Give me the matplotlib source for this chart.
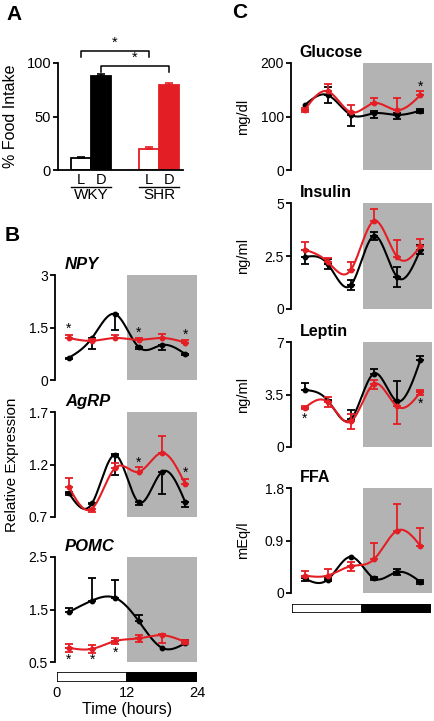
import numpy as np
import matplotlib
matplotlib.use("Agg")
import matplotlib.pyplot as plt
from matplotlib.transforms import blended_transform_factory

plt.rcParams['font.family'] = ['Liberation Sans', 'DejaVu Sans']
plt.rcParams['font.size'] = 8.5

RED = '#e31e24'
GRAY = '#b3b3b3'

# ---------------- Data ----------------
# Panel A
food_groups = ['WKY', 'SHR']
phase_labels = ['L', 'D']
food_wky = [11, 88]
food_wky_err = [1.5, 1.5]
food_shr = [20, 79]
food_shr_err = [1.5, 2.5]

time = [2, 6, 10, 14, 18, 22]
time_ticks = [0, 12, 24]

# Panel B
npy_wky = [0.63, 1.20, 1.88, 0.94, 1.00, 0.74]
npy_wky_lo = [0.02, 0.30, 0.45, 0.05, 0.13, 0.02]
npy_wky_hi = [0, 0, 0, 0, 0, 0]
npy_shr = [1.20, 1.12, 1.20, 1.15, 1.20, 1.07]
npy_shr_lo = [0, 0, 0, 0, 0, 0]
npy_shr_hi = [0.09, 0.04, 0.08, 0.05, 0.12, 0.07]
npy_star_t = [2, 14, 22]
npy_star_y = [1.45, 1.35, 1.28]

agrp_wky = [0.93, 0.83, 1.29, 0.84, 1.13, 0.84]
agrp_wky_lo = [0.02, 0.01, 0.19, 0.03, 0.21, 0.04]
agrp_wky_hi = [0.01, 0, 0.01, 0, 0, 0]
agrp_shr = [0.99, 0.78, 1.17, 1.13, 1.31, 1.01]
agrp_shr_lo = [0, 0.03, 0, 0, 0, 0]
agrp_shr_hi = [0.08, 0, 0.04, 0.05, 0.16, 0.05]
agrp_star_t = [14, 22]
agrp_star_y = [1.22, 1.12]

pomc_wky = [1.45, 1.67, 1.72, 1.28, 0.77, 0.86]
pomc_wky_lo = [0, 0, 0, 0, 0, 0]
pomc_wky_hi = [0.07, 0.43, 0.35, 0.11, 0, 0.06]
pomc_shr = [0.77, 0.75, 0.90, 0.95, 1.01, 0.88]
pomc_shr_lo = [0.07, 0.07, 0.05, 0.06, 0.15, 0.03]
pomc_shr_hi = [0.07, 0.07, 0.05, 0.06, 0.03, 0.03]
pomc_star_t = [2, 6, 10]
pomc_star_y = [0.54, 0.54, 0.68]

# Panel C
glu_wky = [121, 140, 103, 106, 103, 111]
glu_wky_lo = [0, 15, 21, 8, 8, 4]
glu_wky_hi = [0, 15, 0, 4, 4, 3]
glu_shr = [112, 147, 108, 125, 112, 140]
glu_shr_lo = [4, 0, 0, 0, 0, 0]
glu_shr_hi = [4, 13, 14, 9, 22, 7]
glu_star_t = [22]
glu_star_y = [155]

ins_wky = [2.45, 2.12, 1.13, 3.45, 1.50, 2.80]
ins_wky_lo = [0.33, 0.25, 0.25, 0.20, 0.48, 0.20]
ins_wky_hi = [0.33, 0.25, 0.25, 0.20, 0.48, 0.20]
ins_shr = [2.80, 2.22, 1.85, 4.15, 2.45, 2.97]
ins_shr_lo = [0, 0, 0, 0, 0, 0]
ins_shr_hi = [0.35, 0.20, 0.35, 0.55, 0.80, 0.33]

lep_wky = [3.8, 3.1, 1.85, 4.9, 3.05, 5.8]
lep_wky_lo = [0, 0, 0, 0, 0, 0]
lep_wky_hi = [0.5, 0.05, 0.6, 0.3, 1.35, 0.3]
lep_shr = [2.6, 3.0, 1.7, 4.2, 2.7, 3.65]
lep_shr_lo = [0.1, 0.35, 0.5, 0.3, 1.15, 0.15]
lep_shr_hi = [0.1, 0.35, 0.5, 0.3, 0, 0.15]
lep_star_t = [2, 22]
lep_star_y = [1.9, 2.9]

ffa_wky = [0.25, 0.23, 0.62, 0.25, 0.36, 0.19]
ffa_wky_lo = [0.05, 0.03, 0, 0.02, 0.05, 0.03]
ffa_wky_hi = [0.05, 0.03, 0, 0.02, 0.05, 0.03]
ffa_shr = [0.30, 0.30, 0.46, 0.58, 1.07, 0.81]
ffa_shr_lo = [0.02, 0, 0.08, 0, 0, 0]
ffa_shr_hi = [0.07, 0.12, 0.08, 0.28, 0.45, 0.30]

# ---------------- Helpers ----------------
W, H = 434, 721
fig = plt.figure(figsize=(W / 100, H / 100), dpi=100)


def px_axes(x0, y0, x1, y1):
    return fig.add_axes([x0 / W, 1 - y1 / H, (x1 - x0) / W, (y1 - y0) / H])


def natural_spline(x, y, n=200):
    x = np.asarray(x, float)
    y = np.asarray(y, float)
    k = len(x)
    h = np.diff(x)
    A = np.zeros((k, k))
    b = np.zeros(k)
    A[0, 0] = 1
    A[-1, -1] = 1
    for i in range(1, k - 1):
        A[i, i - 1] = h[i - 1]
        A[i, i] = 2 * (h[i - 1] + h[i])
        A[i, i + 1] = h[i]
        b[i] = 6 * ((y[i + 1] - y[i]) / h[i] - (y[i] - y[i - 1]) / h[i - 1])
    M = np.linalg.solve(A, b)
    xs = np.linspace(x[0], x[-1], n)
    ys = np.empty_like(xs)
    for j, xv in enumerate(xs):
        i = min(np.searchsorted(x, xv, side='right') - 1, k - 2)
        t0, t1 = x[i], x[i + 1]
        hh = t1 - t0
        a = (t1 - xv) / hh
        bb = (xv - t0) / hh
        ys[j] = (a * y[i] + bb * y[i + 1]
                 + ((a ** 3 - a) * M[i] + (bb ** 3 - bb) * M[i + 1]) * hh ** 2 / 6)
    return xs, ys


def style_left(ax, ticks, labels):
    for s in ['top', 'right', 'bottom']:
        ax.spines[s].set_visible(False)
    ax.spines['left'].set_linewidth(1.3)
    ax.set_yticks(ticks)
    ax.set_yticklabels(labels)
    ax.tick_params(axis='y', length=3.5, width=1.3, labelsize=10, pad=1.5)
    ax.set_xticks([])


def series(ax, y, lo, hi, color, z):
    xs, ys = natural_spline(time, y)
    ax.plot(xs, ys, color=color, lw=1.5, zorder=z)
    ax.plot(time, y, 'o', color=color, ms=3.2, zorder=z + 0.1)
    lo = np.asarray(lo, float)
    hi = np.asarray(hi, float)
    t = np.asarray(time, float)
    yy = np.asarray(y, float)
    m = lo > 0
    if m.any():
        ax.errorbar(t[m], yy[m], yerr=[lo[m], np.zeros(m.sum())], fmt='none',
                    ecolor=color, elinewidth=1.3, capsize=2.8, capthick=1.3, zorder=z)
    m = hi > 0
    if m.any():
        ax.errorbar(t[m], yy[m], yerr=[np.zeros(m.sum()), hi[m]], fmt='none',
                    ecolor=color, elinewidth=1.3, capsize=2.8, capthick=1.3, zorder=z)


def time_panel(ax, ylim, ticks, labels, title, italic, wky, wlo, whi, shr, slo, shi,
               star_t=(), star_y=(), ylabel=None, title_dx=0.07, title_fs=12):
    ax.set_xlim(-0.35, 24)
    ax.set_ylim(*ylim)
    ax.axvspan(12, 24, color=GRAY, lw=0, zorder=0)
    series(ax, wky, wlo, whi, 'black', 3)
    series(ax, shr, slo, shi, RED, 4)
    for st, sy in zip(star_t, star_y):
        ax.text(st, sy, '*', ha='center', va='center', fontsize=10, zorder=6)
    style_left(ax, ticks, labels)
    ax.text(title_dx, 1.03, title, transform=ax.transAxes, ha='left', va='bottom',
            fontsize=title_fs, fontweight='bold',
            fontstyle='italic' if italic else 'normal')
    if ylabel:
        ax.set_ylabel(ylabel, fontsize=10.5, labelpad=3)


def time_bar(ax, show_labels):
    ax.set_xlim(0, 24)
    ax.set_ylim(0, 1)
    ax.barh(0.5, 12, left=0, height=1, color='white', edgecolor='black', lw=1.2)
    ax.barh(0.5, 12, left=12, height=1, color='black', edgecolor='black', lw=1.2)
    for s in ax.spines.values():
        s.set_visible(False)
    ax.set_yticks([])
    if show_labels:
        ax.set_xticks(time_ticks)
        ax.set_xticklabels([str(v) for v in time_ticks])
        ax.tick_params(axis='x', length=0, labelsize=10.5, pad=3)
        ax.set_xlabel('Time (hours)', fontsize=11.5, labelpad=1)
    else:
        ax.set_xticks([])


# ---------------- Panel A ----------------
axA = px_axes(58, 63, 183, 170)
xpos_wky = [0, 1]
xpos_shr = [3.4, 4.4]
axA.bar(xpos_wky[0], food_wky[0], width=1, color='white', edgecolor='black', lw=1.3)
axA.bar(xpos_wky[1], food_wky[1], width=1, color='black', edgecolor='black', lw=1.3)
axA.bar(xpos_shr[0], food_shr[0], width=1, color='white', edgecolor=RED, lw=1.3)
axA.bar(xpos_shr[1], food_shr[1], width=1, color=RED, edgecolor=RED, lw=1.3)
axA.errorbar(xpos_wky, food_wky, yerr=[[0, 0], food_wky_err], fmt='none',
             ecolor='black', elinewidth=1.2, capsize=3, capthick=1.2)
axA.errorbar(xpos_shr, food_shr, yerr=[[0, 0], food_shr_err], fmt='none',
             ecolor=RED, elinewidth=1.2, capsize=3, capthick=1.2)
axA.set_xlim(-1.15, 5.1)
axA.set_ylim(0, 100)
for s in ['top', 'right']:
    axA.spines[s].set_visible(False)
axA.spines['left'].set_linewidth(1.3)
axA.spines['bottom'].set_linewidth(1.3)
axA.set_yticks([0, 50, 100])
axA.tick_params(axis='y', length=3.5, width=1.3, labelsize=10.5, pad=1.5)
axA.set_xticks([])
axA.set_ylabel('% Food Intake', fontsize=11.5, labelpad=3)
axA.yaxis.set_label_coords(-0.32, 0.5)

trA = blended_transform_factory(axA.transData, axA.transAxes)
for xs_, grp in [(xpos_wky, food_groups[0]), (xpos_shr, food_groups[1])]:
    for xv, lab in zip(xs_, phase_labels):
        axA.text(xv, -0.095, lab, transform=trA, ha='center', va='center', fontsize=10.5)
    axA.plot([xs_[0] - 0.5, xs_[1] + 0.5], [-0.16, -0.16], transform=trA,
             color='black', lw=1, clip_on=False)
    axA.text((xs_[0] + xs_[1]) / 2, -0.235, grp, transform=trA, ha='center',
             va='center', fontsize=11)

# significance brackets
for (x0, x1, yb) in [(xpos_wky[0], xpos_shr[0], 111), (xpos_wky[1], xpos_shr[1], 97)]:
    axA.plot([x0, x0, x1, x1], [yb - 5, yb, yb, yb - 5], color='black', lw=1.1,
             clip_on=False)
    axA.text((x0 + x1) / 2, yb + 1, '*', ha='center', va='bottom', fontsize=10.5)

# ---------------- Panel B ----------------
axN = px_axes(55, 275, 197, 380)
time_panel(axN, (0, 3), [0, 1.5, 3], ['0', '1.5', '3'], 'NPY', True,
           npy_wky, npy_wky_lo, npy_wky_hi, npy_shr, npy_shr_lo, npy_shr_hi,
           npy_star_t, npy_star_y)
axG = px_axes(55, 412, 197, 517)
time_panel(axG, (0.7, 1.7), [0.7, 1.2, 1.7], ['0.7', '1.2', '1.7'], 'AgRP', True,
           agrp_wky, agrp_wky_lo, agrp_wky_hi, agrp_shr, agrp_shr_lo, agrp_shr_hi,
           agrp_star_t, agrp_star_y, ylabel='Relative Expression')
axP = px_axes(55, 557, 197, 662)
time_panel(axP, (0.5, 2.5), [0.5, 1.5, 2.5], ['0.5', '1.5', '2.5'], 'POMC', True,
           pomc_wky, pomc_wky_lo, pomc_wky_hi, pomc_shr, pomc_shr_lo, pomc_shr_hi,
           pomc_star_t, pomc_star_y)
axG.yaxis.label.set_fontsize(11)
axG.yaxis.set_label_coords(-0.25, 0.5)
time_bar(px_axes(57, 672, 197, 682), True)

# ---------------- Panel C ----------------
ax1 = px_axes(291, 63, 432, 170)
time_panel(ax1, (0, 200), [0, 100, 200], ['0', '100', '200'], 'Glucose', False,
           glu_wky, glu_wky_lo, glu_wky_hi, glu_shr, glu_shr_lo, glu_shr_hi,
           glu_star_t, glu_star_y, ylabel='mg/dl', title_dx=0.06, title_fs=11.5)
ax2 = px_axes(291, 203, 432, 309)
time_panel(ax2, (0, 5), [0, 2.5, 5], ['0', '2.5', '5'], 'Insulin', False,
           ins_wky, ins_wky_lo, ins_wky_hi, ins_shr, ins_shr_lo, ins_shr_hi,
           ylabel='ng/ml', title_dx=0.06, title_fs=11.5)
ax3 = px_axes(291, 342, 432, 447)
time_panel(ax3, (0, 7), [0, 3.5, 7], ['0', '3.5', '7'], 'Leptin', False,
           lep_wky, lep_wky_lo, lep_wky_hi, lep_shr, lep_shr_lo, lep_shr_hi,
           lep_star_t, lep_star_y, ylabel='ng/ml', title_dx=0.06, title_fs=11.5)
ax4 = px_axes(291, 488, 432, 593)
time_panel(ax4, (0, 1.8), [0, 0.9, 1.8], ['0', '0.9', '1.8'], 'FFA', False,
           ffa_wky, ffa_wky_lo, ffa_wky_hi, ffa_shr, ffa_shr_lo, ffa_shr_hi,
           ylabel='mEq/l', title_dx=0.06, title_fs=11.5)
for a in [ax1, ax2, ax3, ax4]:
    a.yaxis.set_label_coords(-0.29, 0.5)
time_bar(px_axes(292, 604, 431, 613), False)

# panel letters
for lab, x, y in [('A', 14, 15), ('B', 12, 235), ('C', 240, 13)]:
    fig.text(x / W, 1 - y / H, lab, ha='center', va='center', fontsize=15,
             fontweight='bold')

fig.savefig('out.png', dpi=100)
